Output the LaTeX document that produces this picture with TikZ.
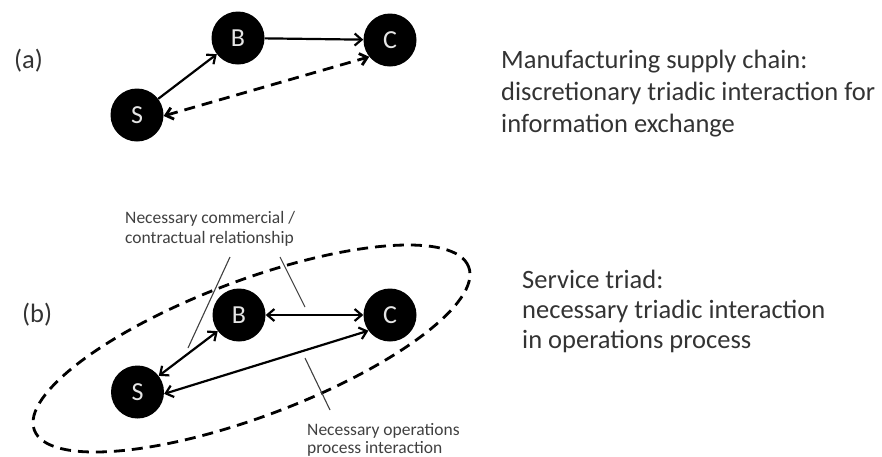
\documentclass[tikz,border=0pt]{standalone}
\usepackage{fontspec}
\setmainfont{Carlito}
\usetikzlibrary{arrows.meta}
\begin{document}
\begin{tikzpicture}[x=1pt,y=-1pt,
  agent/.style={circle,fill=black,minimum size=53pt,inner sep=0pt,text=black!10,font=\fontsize{26}{26}\selectfont},
  link/.style={line width=2.2pt,-{Straight Barb[length=7pt,width=12pt]}},
  dlink/.style={line width=2.2pt,{Straight Barb[length=7pt,width=12pt]}-{Straight Barb[length=7pt,width=12pt]}},
  dashlink/.style={dlink,line width=2.8pt,dash pattern=on 11pt off 7pt},
  lead/.style={line width=1.1pt,draw=black!75},
  bigtext/.style={font=\fontsize{26.5}{32}\selectfont,text=black!80,align=left,anchor=base west,inner sep=0pt},
  smalltext/.style={font=\fontsize{17.5}{20}\selectfont,text=black!75,align=left,anchor=base west,inner sep=0pt}]
\useasboundingbox (0,0) rectangle (882,456);

% (a)
\node[bigtext] (la) at (14,68) {(a)};
\node[agent] (Sa) at (137,115) {S};
\node[agent] (Ba) at (238,38) {B};
\node[agent] (Ca) at (390,40) {C};
\draw[link] (Sa) -- (Ba);
\draw[link] (Ba) -- (Ca);
\draw[dashlink] (Sa.-2) -- (Ca.-141);
\node[bigtext] (ta) at (501,132) {Manufacturing supply chain:\\discretionary triadic interaction for\\information exchange};

% (b)
\node[bigtext] (lb) at (22,322) {(b)};
\draw[line width=2.8pt,dash pattern=on 11pt off 7pt,rotate around={20.6:(251.5,348.5)}] (251.5,348.5) ellipse [x radius=232pt, y radius=68pt];
\node[agent] (Sb) at (137.5,392) {S};
\node[agent] (Bb) at (239,315) {B};
\node[agent] (Cb) at (390,315) {C};
\draw[dlink] (Sb) -- (Bb);
\draw[dlink] (Bb) -- (Cb);
\draw[dlink] (Sb.-4) -- (Cb.-144);
\node[bigtext,font=\fontsize{26.5}{30}\selectfont] (tb) at (522,348) {Service triad:\\necessary triadic interaction\\in operations process};

\node[smalltext] (n1) at (125,243) {Necessary commercial /\\contractual relationship};
\coordinate (l1a) at (230,257); \coordinate (l1b) at (188,348);
\coordinate (l2a) at (280,257); \coordinate (l2b) at (305,307);
\draw[lead] (l1a) -- (l1b);
\draw[lead] (l2a) -- (l2b);
\node[smalltext,font=\fontsize{17.5}{18}\selectfont] (n2) at (307,453) {Necessary operations\\process interaction};
\coordinate (l3a) at (305,358); \coordinate (l3b) at (330,410);
\draw[lead] (l3a) -- (l3b);
\end{tikzpicture}
\end{document}
